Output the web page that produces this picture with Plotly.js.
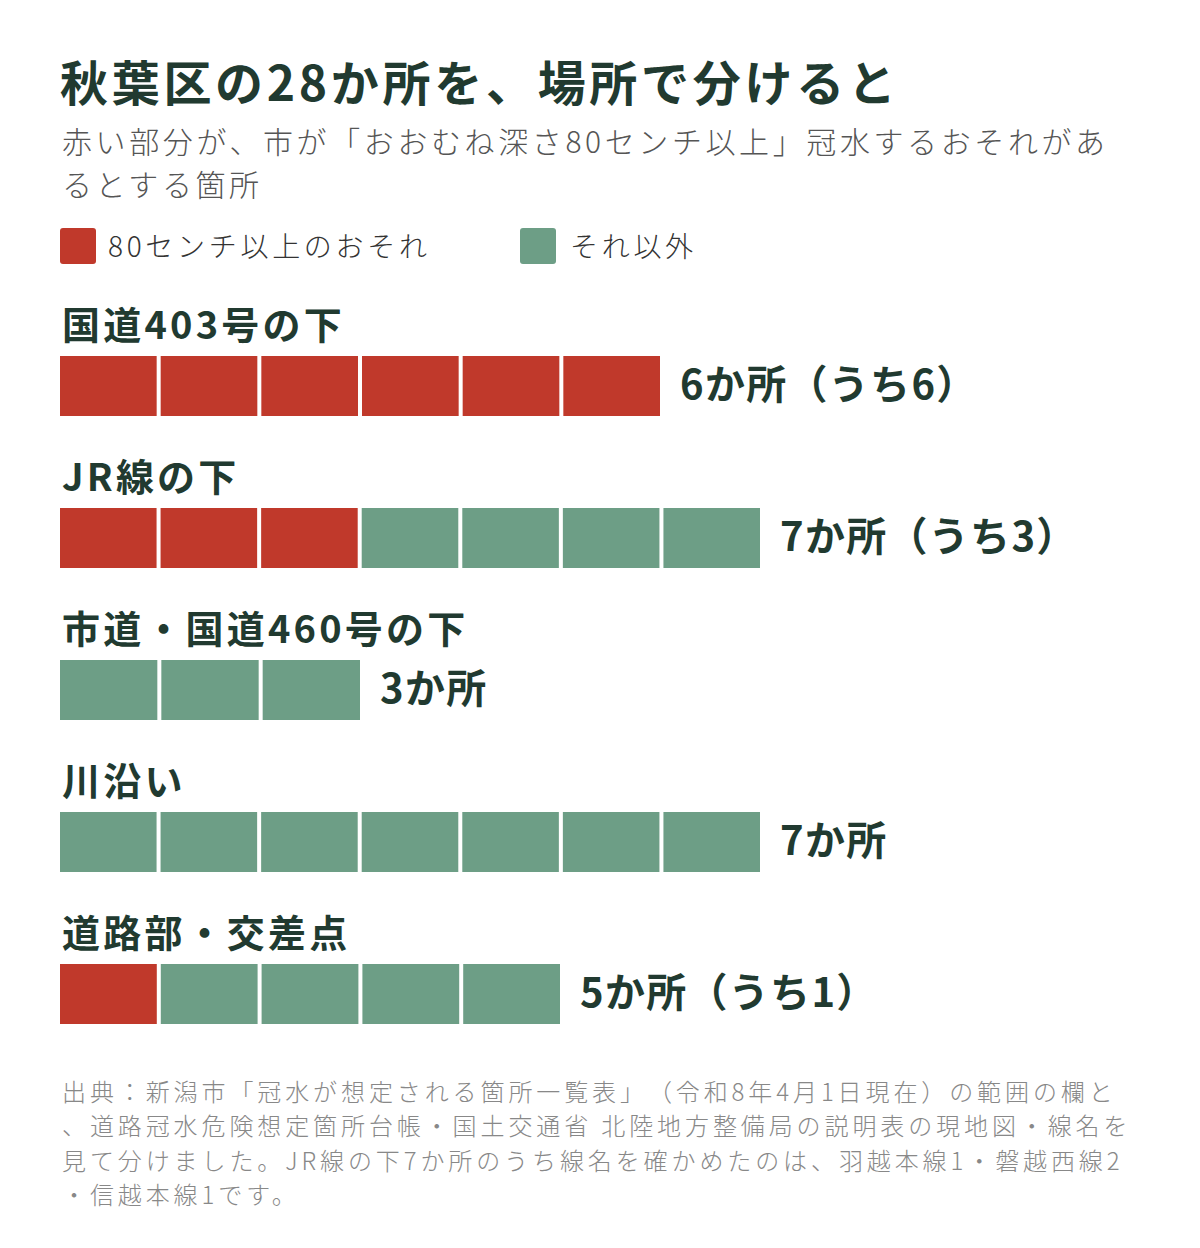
<!DOCTYPE html>
<html>
<head>
<meta charset="utf-8">
<script src="https://cdn.plot.ly/plotly-3.0.1.min.js"></script>
<style>
  html, body { margin: 0; padding: 0; background: #fff; }
  #chart { width: 1200px; height: 1248px; }
  /* keep full-width punctuation full width, like the reference */
  .annotation-text { font-feature-settings: "chws" 0, "halt" 0, "palt" 0; text-spacing-trim: space-all; }
</style>
</head>
<body>
<div id="chart"></div>
<script>
/* ── data ── */
const categories = ["国道403号の下", "JR線の下", "市道・国道460号の下", "川沿い", "道路部・交差点"];
const totalCounts = [6, 7, 3, 7, 5];
const redCounts   = [6, 3, 0, 0, 1];

const titleText = "秋葉区の28か所を、場所で分けると";
const subtitleLines = [
  "赤い部分が、市が「おおむね深さ80センチ以上」冠水するおそれがあ",
  "るとする箇所",
];
const legendNames = ["80センチ以上のおそれ", "それ以外"];
const sourceLines = [
  "出典：新潟市「冠水が想定される箇所一覧表」（令和8年4月1日現在）の範囲の欄と",
  "、道路冠水危険想定箇所台帳・国土交通省 北陸地方整備局の説明表の現地図・線名を",
  "見て分けました。JR線の下7か所のうち線名を確かめたのは、羽越本線1・磐越西線2",
  "・信越本線1です。",
];

/* ── style ── */
const RED   = "#c0392b";
const GREEN = "#6d9e86";
const INK   = "#213a30";
const FONT  = "'Noto Sans CJK JP', 'Noto Sans', sans-serif";

const W = 1200, H = 1248;
const ROW_PITCH = 152;   // px between rows
const FIRST_ROW = 386;   // px, centre of first bar
const UNIT_PX   = 100;   // px per unit
const LEFT_PX   = 60;
const GAP       = 0.04;  // gap between units, in units

const px = x => x / W;
const py = y => 1 - y / H;

/* ── 1. unit bars ── */
const red   = { y: [], x: [], base: [] };
const green = { y: [], x: [], base: [] };
categories.forEach((c, i) => {
  const n = totalCounts[i];
  const w = (n - GAP * (n - 1)) / n;
  for (let k = 0; k < n; k++) {
    const t = k < redCounts[i] ? red : green;
    t.y.push(i);
    t.x.push(w);
    t.base.push(k * (w + GAP));
  }
});

const barTrace = (d, color, name) => ({
  type: "bar", orientation: "h", name,
  y: d.y, x: d.x, base: d.base,
  width: 60 / ROW_PITCH,
  marker: { color, line: { width: 0 } },
  hoverinfo: "skip", showlegend: false,
});
const traces = [barTrace(red, RED, legendNames[0]), barTrace(green, GREEN, legendNames[1])];

/* ── 2. text ── */
const annotations = [];
const spacing = [];   // letter-spacing per annotation, applied after render

const paperText = (text, x, y, size, color, weight, ls) => {
  annotations.push({
    xref: "paper", yref: "paper", x: px(x), y: py(y),
    xanchor: "left", yanchor: "middle", align: "left", showarrow: false,
    text, font: { family: FONT, size, color, weight },
  });
  spacing.push(ls);
};

paperText(titleText, 58, 80, 48, INK, 700, 3.7);
subtitleLines.forEach((t, i) => paperText(t, 60, 140 + i * 43, 30, "#555", 300, 3.6));
paperText(legendNames[0], 106, 245, 28, "#333", 300, 3.7);
paperText(legendNames[1], 568, 245, 28, "#333", 300, 3.7);
sourceLines.forEach((t, i) => paperText(t, 60, 1090 + i * 34.5, 24, "#888", 300, 3.9));

categories.forEach((c, i) => {
  annotations.push({
    xref: "x", yref: "y", x: 0, y: i, yshift: 64,
    xanchor: "left", yanchor: "middle", align: "left", showarrow: false,
    text: c, font: { family: FONT, size: 38, color: INK, weight: 700 },
  });
  spacing.push(3.2);
  const label = totalCounts[i] + "か所" + (redCounts[i] > 0 ? "（うち" + redCounts[i] + "）" : "");
  annotations.push({
    xref: "x", yref: "y", x: totalCounts[i] + 0.18, y: i, yshift: 4,
    xanchor: "left", yanchor: "middle", align: "left", showarrow: false,
    text: label, font: { family: FONT, size: 40, color: INK, weight: 700 },
  });
  spacing.push(1.3);
});

/* ── 3. legend swatches (rounded squares) ── */
const swatch = (xa, xb, ya, yb) => {
  const rx = 3 / W, ry = 3 / H;
  const x0 = px(xa), x1 = px(xb), y0 = py(yb), y1 = py(ya);
  return `M${x0 + rx},${y0} L${x1 - rx},${y0} Q${x1},${y0} ${x1},${y0 + ry} L${x1},${y1 - ry} ` +
         `Q${x1},${y1} ${x1 - rx},${y1} L${x0 + rx},${y1} Q${x0},${y1} ${x0},${y1 - ry} ` +
         `L${x0},${y0 + ry} Q${x0},${y0} ${x0 + rx},${y0} Z`;
};
const shapes = [RED, GREEN].map((col, i) => ({
  type: "path", xref: "paper", yref: "paper",
  path: i ? swatch(520, 556, 228, 264) : swatch(60, 96, 228, 264),
  fillcolor: col, line: { width: 0 },
}));

/* ── 4. layout ── */
const yTop = -FIRST_ROW / ROW_PITCH;
const layout = {
  width: W, height: H,
  margin: { l: 0, r: 0, t: 0, b: 0 },
  paper_bgcolor: "#fff", plot_bgcolor: "#fff",
  barmode: "overlay",
  xaxis: {
    domain: [px(LEFT_PX), 1],
    range: [0, (W - LEFT_PX) / UNIT_PX],
    visible: false, fixedrange: true,
  },
  yaxis: {
    domain: [0, 1],
    range: [yTop + H / ROW_PITCH, yTop],
    visible: false, fixedrange: true,
  },
  annotations, shapes,
  showlegend: false,
};

Plotly.newPlot("chart", traces, layout, { staticPlot: true, displayModeBar: false }).then(gd => {
  gd.querySelectorAll(".annotation").forEach((el, i) => {
    const t = el.querySelector("text");
    if (t && spacing[i]) t.style.letterSpacing = spacing[i] + "px";
  });
});
</script>
</body>
</html>
